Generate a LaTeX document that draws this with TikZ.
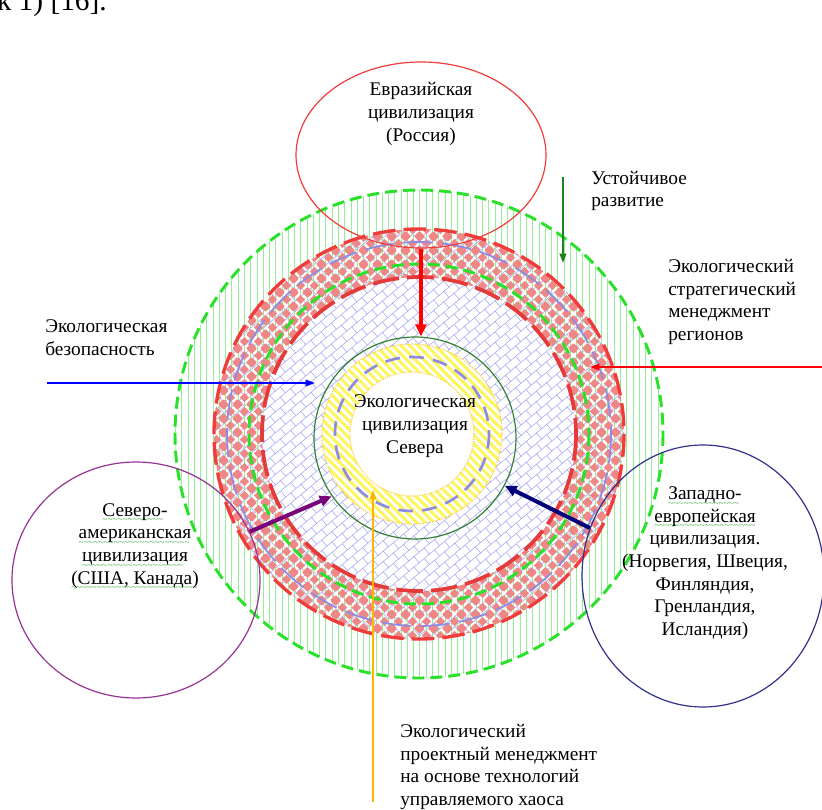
\documentclass[tikz,border=0pt]{standalone}
\usepackage{fontspec}
\setmainfont{Liberation Serif}
\usetikzlibrary{arrows.meta,patterns.meta,shapes.geometric}

\definecolor{ringgreen}{RGB}{40,225,40}
\definecolor{hatchgreen}{RGB}{150,238,150}
\definecolor{ringred}{RGB}{242,60,60}
\definecolor{diamondred}{RGB}{240,135,135}
\definecolor{brickblue}{RGB}{170,170,245}
\definecolor{ringblue}{RGB}{140,140,230}
\definecolor{stripeyellow}{RGB}{255,245,90}
\definecolor{dotyellow}{RGB}{250,200,60}
\definecolor{coregreen}{RGB}{50,130,50}
\definecolor{eurared}{RGB}{240,60,60}
\definecolor{napurple}{RGB}{150,50,150}
\definecolor{wenavy}{RGB}{50,50,140}
\definecolor{arrowgreen}{RGB}{30,130,30}
\definecolor{arroworange}{RGB}{255,180,0}
\definecolor{arrowpurple}{RGB}{120,0,120}
\definecolor{arrownavy}{RGB}{0,0,120}
\definecolor{spellgreen}{RGB}{60,170,60}

% wavy green underline
\newcommand\spell[1]{\setbox0\hbox{#1}\rlap{\color{spellgreen}\fontsize{7}{7}\selectfont
  \lower5pt\hbox to\wd0{\leaders\hbox{\char126}\hfill}}\box0}

\tikzdeclarepattern{
  name=diamonds,
  type=uncolored,
  bounding box={(0pt,0pt) and (10.5pt,10.5pt)},
  tile size={(10.5pt,10.5pt)},
  code={
    \foreach \px/\py in {0/0,10.5/0,0/10.5,10.5/10.5,5.25/5.25}
      \fill[shift={(\px pt,\py pt)}] (3.7pt,0) -- (0,3.7pt) -- (-3.7pt,0) -- (0,-3.7pt) -- cycle;
  }
}

\tikzdeclarepattern{
  name=slantbricks,
  type=uncolored,
  bounding box={(-0.5pt,-0.5pt) and (10.5pt,12.5pt)},
  tile size={(10pt,12pt)},
  tile transformation={rotate=40},
  code={
    \draw[line width=.45pt] (-0.5pt,0) -- (10.5pt,0) (-0.5pt,6pt) -- (10.5pt,6pt)
      (0,0) -- (0,6pt) (5pt,6pt) -- (5pt,12pt);
  }
}

\begin{document}
\begin{tikzpicture}[x=0.75pt, y=-0.75pt,
    txt/.style={font=\fontsize{14.5}{17}\selectfont, inner sep=0pt},
    civ/.style={ellipse, draw, line width=0.9pt, inner sep=0pt},
    greendash/.style={ringgreen, line width=2.2pt, dash pattern=on 9pt off 4.5pt},
    reddash/.style={ringred, line width=2.5pt, dash pattern=on 17pt off 6pt},
    fat arrow/.style={line width=3pt, -{Triangle[length=9pt,width=8pt]}},
    thin arrow/.style={line width=1pt, -{Triangle[length=7pt,width=5pt]}}]
\useasboundingbox (0,0) rectangle (822,810);
\clip (0,0) rectangle (822,810);

\coordinate (ctr) at (419,434);
\coordinate (yc) at (412,434);

% Hatched rings
\path[pattern=slantbricks, pattern color=brickblue, even odd rule]
  (ctr) circle[radius=205] (yc) circle[radius=90];
\path[pattern={Lines[angle=90,distance=4.7pt,line width=.6pt]}, pattern color=hatchgreen, even odd rule]
  (ctr) circle[radius=244] (ctr) circle[radius=157];
\path[pattern=diamonds, pattern color=diamondred, even odd rule]
  (ctr) circle[radius=205] (ctr) circle[radius=157];
\path[pattern={Lines[angle=-45,distance=4.5pt,line width=2.2pt]}, pattern color=stripeyellow, even odd rule]
  (yc) circle[radius=90] (yc) circle[radius=62];

% Dashed borders
\draw[greendash] (ctr) circle[radius=244];
\draw[reddash] (ctr) circle[radius=205];
\draw[ringblue, line width=1.3pt, dash pattern=on 22pt off 7pt] (ctr) circle[radius=192];
\draw[greendash] (ctr) circle[radius=170];
\draw[reddash, ringred!95!black, line width=2.8pt, dash pattern=on 20pt off 6pt] (ctr) circle[radius=157];
\draw[dotyellow, densely dotted, line width=.8pt] (yc) circle[radius=90] (yc) circle[radius=62];
\draw[ringblue, line width=2pt, dash pattern=on 11pt off 7pt] (yc) circle[radius=77];

% Civilisations
\node[circle, draw=coregreen, line width=.9pt, minimum size=151.5pt, inner sep=0pt] (core) at (415,438) {};
\node[txt, align=center] (coretxt) at (415,426) {Экологическая\\цивилизация\\Севера};

\node[civ, draw=eurared, minimum width=187.5pt, minimum height=139.5pt] (eura) at (421,155) {};
\node[txt, align=center] (euratxt) at (421,114) {Евразийская\\цивилизация\\(Россия)};

\node[civ, draw=napurple, minimum width=186pt, minimum height=177pt] (na) at (136,580) {};
\node[txt, align=center] (natxt) at (135,547)
  {\spell{Северо-}\\\spell{американская}\\\spell{цивилизация}\\\spell{(США, Канада)}};

\node[civ, draw=wenavy, minimum width=181.5pt, minimum height=196.5pt] (we) at (703,576) {};
\node[txt, align=center] (wetxt) at (705,563)
  {\spell{Западно-}\\\spell{европейская}\\цивилизация.\\(Норвегия, Швеция,\\Финляндия,\\Гренландия,\\Исландия)};

% Labels
\node[txt, anchor=west, align=left] (sustlbl) at (591,191) {Устойчивое\\развитие};
\node[txt, anchor=west, align=left] (stratlbl) at (668,302) {Экологический\\стратегический\\менеджмент\\регионов};
\node[txt, anchor=west, align=left] (safelbl) at (45,338) {Экологическая\\безопасность};
\node[txt, anchor=west, align=left] (projlbl) at (400,767) {Экологический\\проектный менеджмент\\на основе технологий\\управляемого хаоса};
\node[anchor=base east, inner sep=0pt, font=\fontsize{22}{26}\selectfont] (refnote) at (107,11) {рисунок 1) [16].};

% Arrows
\coordinate (safetail) at (47,383);   \coordinate (safehead) at (315,383);
\coordinate (strattail) at (822,367); \coordinate (strathead) at (590,367);
\coordinate (susttail) at (563,177);  \coordinate (susthead) at (563,263);
\coordinate (projtail) at (373,802);  \coordinate (projhead) at (373,490);

\draw[fat arrow, red] (eura.south) -- (eura.south |- core.north);
\draw[fat arrow, arrowpurple] (na.23) -- (core.215);
\draw[fat arrow, arrownavy] (we.157) -- (core.-28);
\draw[thin arrow, blue] (safetail) -- (safehead);
\draw[thin arrow, red] (strattail) -- (strathead);
\draw[thin arrow, arrowgreen, line width=1.5pt] (susttail) -- (susthead);
\draw[thin arrow, arroworange] (projtail) -- (projhead);
\end{tikzpicture}
\end{document}
